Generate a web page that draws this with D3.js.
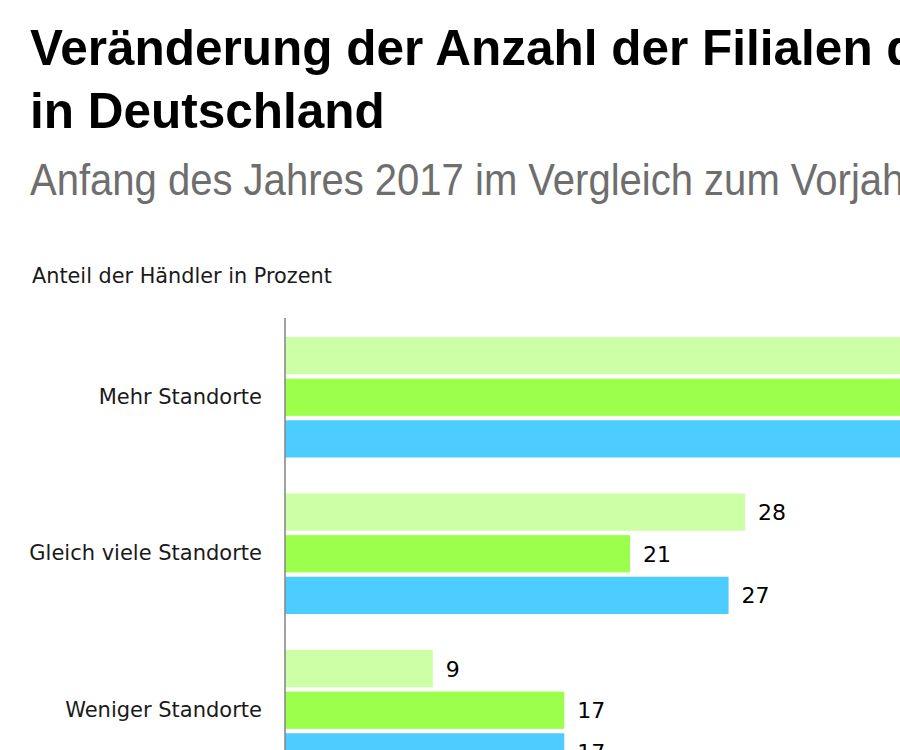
<!DOCTYPE html>
<html>
<head>
<meta charset="utf-8">
<script src="https://cdn.jsdelivr.net/npm/d3@7"></script>
<style>
  html, body { margin: 0; padding: 0; background: #fff; overflow: hidden; }
  svg { display: block; }
</style>
</head>
<body>
<svg id="chart" width="900" height="750"></svg>
<script>
// ---- data ----
const titleLines = ["Veränderung der Anzahl der Filialen der Händler", "in Deutschland"];
const subtitle = "Anfang des Jahres 2017 im Vergleich zum Vorjahr";
const axisTitle = "Anteil der Händler in Prozent";
const categories = ["Mehr Standorte", "Gleich viele Standorte", "Weniger Standorte"];
const seriesKeys = ["s1", "s2", "s3"];
const series1 = [63, 28, 9];
const series2 = [62, 21, 17];
const series3 = [56, 27, 17];
const seriesValues = [series1, series2, series3];
const colors = ["#ccffa6", "#9cff4c", "#4dccff"];

const W = 900, H = 750;
const svg = d3.select("#chart");
svg.append("defs").append("clipPath").attr("id", "frame")
  .append("rect").attr("x", 0).attr("y", 0).attr("width", W).attr("height", H);
const root = svg.append("g").attr("clip-path", "url(#frame)");

// Title
root.append("g").selectAll("text").data(titleLines).join("text")
  .attr("x", 30)
  .attr("y", (d, i) => 65 + i * 63)
  .attr("font-family", "'Liberation Sans', Arial, sans-serif")
  .attr("font-weight", 700)
  .attr("font-size", 49.5)
  .attr("fill", "#000")
  .text(d => d);

// Subtitle (condensed look)
root.append("g")
  .attr("transform", "translate(30,195) scale(0.91,1)")
  .append("text")
  .attr("x", 0).attr("y", 0)
  .attr("font-family", "'Liberation Sans', Arial, sans-serif")
  .attr("font-size", 44)
  .attr("fill", "#6e6e6e")
  .text(subtitle);

// Axis title
root.append("text")
  .attr("x", 32).attr("y", 283)
  .attr("font-family", "'DejaVu Sans', sans-serif")
  .attr("font-size", 20.8)
  .attr("fill", "#1a1a1a")
  .text(axisTitle);

// Scales
const x = d3.scaleLinear().domain([0, 28]).range([285, 745]);
const y0 = d3.scaleBand().domain(categories).range([337, 770.5]).paddingInner(0.23).paddingOuter(0);
const y1 = d3.scaleBand().domain(seriesKeys).range([0, y0.bandwidth()]).paddingInner(0.105).paddingOuter(0);

const rows = categories.map((c, ci) => ({
  cat: c,
  vals: seriesKeys.map((k, si) => ({ key: k, value: seriesValues[si][ci], color: colors[si] }))
}));

const groups = root.append("g").selectAll("g").data(rows).join("g")
  .attr("transform", d => `translate(0,${y0(d.cat)})`);

groups.selectAll("rect").data(d => d.vals).join("rect")
  .attr("x", x(0))
  .attr("y", d => y1(d.key))
  .attr("width", d => x(d.value) - x(0))
  .attr("height", y1.bandwidth())
  .attr("fill", d => d.color);

groups.selectAll("text.val").data(d => d.vals.filter(v => x(v.value) + 40 < W)).join("text")
  .attr("class", "val")
  .attr("x", d => x(d.value) + 13)
  .attr("y", d => y1(d.key) + y1.bandwidth() / 2)
  .attr("dy", "0.36em")
  .attr("font-family", "'DejaVu Sans', sans-serif")
  .attr("font-size", 22)
  .attr("fill", "#000")
  .text(d => d.value);

// Category labels
const yAxis = d3.axisLeft(y0).tickSize(0).tickPadding(23);
const ag = root.append("g").attr("transform", `translate(${x(0)},0)`).call(yAxis);
ag.select(".domain").remove();
ag.selectAll("text")
  .attr("font-family", "'DejaVu Sans', sans-serif")
  .attr("font-size", 21)
  .attr("fill", "#1a1a1a");

// Vertical axis line
root.append("line")
  .attr("x1", x(0)).attr("x2", x(0))
  .attr("y1", 318).attr("y2", H)
  .attr("stroke", "#8a8a8a")
  .attr("stroke-width", 1.6);
</script>
</body>
</html>
